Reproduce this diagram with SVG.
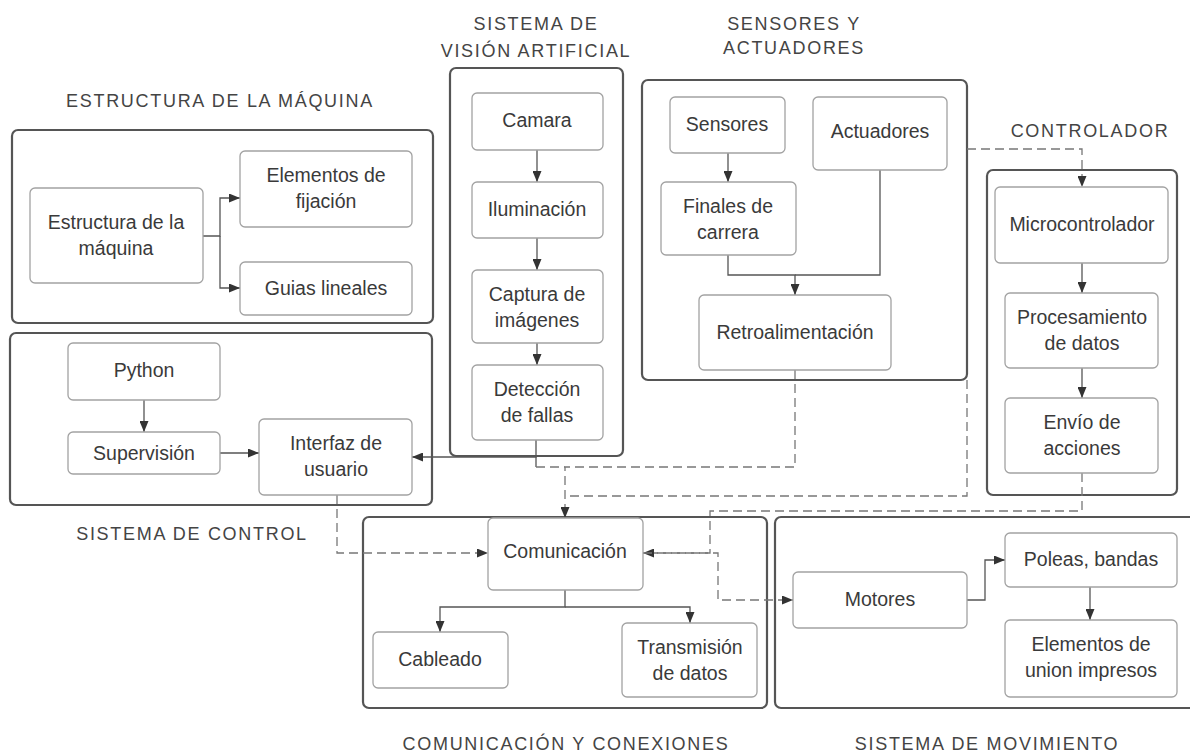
<svg xmlns="http://www.w3.org/2000/svg" width="1190" height="755" viewBox="0 0 1190 755">
<defs>
<marker id="ah" markerUnits="userSpaceOnUse" markerWidth="11" markerHeight="9" refX="11" refY="4.5" orient="auto">
<path d="M0,0 L11,4.5 L0,9 z" fill="#333" stroke="none"/>
</marker>
<style>
.grp{fill:#fff;stroke:#555;stroke-width:2.2}
.nd{fill:#fff;stroke:#a2a2a2;stroke-width:1.3}
.t{font-family:"Liberation Sans",Arial,sans-serif;font-size:19.5px;fill:#3a3a3a;text-anchor:middle}
.ttl{font-family:"Liberation Sans",Arial,sans-serif;font-size:18px;fill:#444;text-anchor:middle;letter-spacing:1.7px}
.c{fill:none;stroke:#555;stroke-width:1.3}
.d{fill:none;stroke:#777;stroke-width:1.3;stroke-dasharray:9 5}
</style>
</defs>
<rect width="1190" height="755" fill="#fff"/>

<g id="groups">
<g id="g-estructura"><rect class="grp" x="12" y="130" width="421" height="193" rx="6"/><text class="ttl" x="220" y="107">ESTRUCTURA DE LA MÁQUINA</text></g>
<g id="g-control"><rect class="grp" x="10" y="333" width="422" height="172" rx="6"/><text class="ttl" x="192" y="540">SISTEMA DE CONTROL</text></g>
<g id="g-vision"><rect class="grp" x="450" y="68" width="173" height="388" rx="6"/><text class="ttl" x="536" y="30">SISTEMA DE</text><text class="ttl" x="536" y="57">VISIÓN ARTIFICIAL</text></g>
<g id="g-sensores"><rect class="grp" x="642" y="80" width="325" height="300" rx="6"/><text class="ttl" x="794" y="30">SENSORES Y</text><text class="ttl" x="794" y="54">ACTUADORES</text></g>
<g id="g-controlador"><rect class="grp" x="987" y="170" width="190" height="325" rx="6"/><text class="ttl" x="1090" y="137">CONTROLADOR</text></g>
<g id="g-comunicacion"><rect class="grp" x="363" y="517" width="404" height="191" rx="6"/><text class="ttl" x="566" y="750">COMUNICACIÓN Y CONEXIONES</text></g>
<g id="g-movimiento"><rect class="grp" x="775" y="517" width="425" height="191" rx="6"/><text class="ttl" x="987" y="750">SISTEMA DE MOVIMIENTO</text></g>
</g>

<g id="connectors">
<path class="c" d="M203,236 H220 V198 H240" marker-end="url(#ah)"/>
<path class="c" d="M220,236 V288 H240" marker-end="url(#ah)"/>
<path class="c" d="M144,400 V432" marker-end="url(#ah)"/>
<path class="c" d="M220,453 H259" marker-end="url(#ah)"/>
<path class="c" d="M536,440 V457 H412" marker-end="url(#ah)"/>
<path class="c" d="M537,150 V182" marker-end="url(#ah)"/>
<path class="c" d="M537,238 V270" marker-end="url(#ah)"/>
<path class="c" d="M537,343 V365" marker-end="url(#ah)"/>
<path class="c" d="M728,153 V182" marker-end="url(#ah)"/>
<path class="c" d="M728,255 V275 H795 V295" marker-end="url(#ah)"/>
<path class="c" d="M880,170 V275 H795"/>
<path class="c" d="M1082,263 V293" marker-end="url(#ah)"/>
<path class="c" d="M1082,368 V398" marker-end="url(#ah)"/>
<path class="c" d="M565,590 V607 H440 V632" marker-end="url(#ah)"/>
<path class="c" d="M565,607 H690 V623" marker-end="url(#ah)"/>
<path class="c" d="M967,600 H985 V560 H1005" marker-end="url(#ah)"/>
<path class="c" d="M1090,587 V620" marker-end="url(#ah)"/>
<path class="c" d="M536,457 V467"/>
<path class="d" d="M795,370 V467 H565 V518" marker-end="url(#ah)"/>
<path class="d" d="M536,467 H565"/>
<path class="d" d="M967,380 V496 H565"/>
<path class="d" d="M967,149 H1082 V187" marker-end="url(#ah)"/>
<path class="d" d="M1082,473 V511 H710 V553 H643" marker-end="url(#ah)"/>
<path class="d" d="M643,553 H718 V600 H793" marker-end="url(#ah)"/>
<path class="d" d="M337,495 V553 H488" marker-end="url(#ah)"/>
</g>

<g id="n-estructura"><rect class="nd" x="30" y="188" width="173" height="95" rx="5"/><text class="t" x="116" y="229">Estructura de la</text><text class="t" x="116" y="255">máquina</text></g>
<g id="n-fijacion"><rect class="nd" x="240" y="151" width="172" height="76" rx="5"/><text class="t" x="326" y="182">Elementos de</text><text class="t" x="326" y="208">fijación</text></g>
<g id="n-guias"><rect class="nd" x="240" y="262" width="172" height="53" rx="5"/><text class="t" x="326" y="295">Guias lineales</text></g>

<g id="n-python"><rect class="nd" x="68" y="343" width="152" height="57" rx="5"/><text class="t" x="144" y="377">Python</text></g>
<g id="n-supervision"><rect class="nd" x="68" y="432" width="152" height="42" rx="5"/><text class="t" x="144" y="460">Supervisión</text></g>
<g id="n-interfaz"><rect class="nd" x="259" y="419" width="153" height="76" rx="5"/><text class="t" x="336" y="450">Interfaz de</text><text class="t" x="336" y="476">usuario</text></g>

<g id="n-camara"><rect class="nd" x="472" y="93" width="131" height="57" rx="5"/><text class="t" x="537" y="127">Camara</text></g>
<g id="n-iluminacion"><rect class="nd" x="472" y="182" width="131" height="56" rx="5"/><text class="t" x="537" y="216">Iluminación</text></g>
<g id="n-captura"><rect class="nd" x="472" y="270" width="131" height="73" rx="5"/><text class="t" x="537" y="301">Captura de</text><text class="t" x="537" y="327">imágenes</text></g>
<g id="n-deteccion"><rect class="nd" x="472" y="365" width="131" height="75" rx="5"/><text class="t" x="537" y="396">Detección</text><text class="t" x="537" y="422">de fallas</text></g>

<g id="n-sensores"><rect class="nd" x="670" y="97" width="115" height="56" rx="5"/><text class="t" x="727" y="131">Sensores</text></g>
<g id="n-actuadores"><rect class="nd" x="813" y="97" width="134" height="73" rx="5"/><text class="t" x="880" y="138">Actuadores</text></g>
<g id="n-finales"><rect class="nd" x="661" y="182" width="135" height="73" rx="5"/><text class="t" x="728" y="213">Finales de</text><text class="t" x="728" y="239">carrera</text></g>
<g id="n-retro"><rect class="nd" x="699" y="295" width="192" height="75" rx="5"/><text class="t" x="795" y="339">Retroalimentación</text></g>

<g id="n-micro"><rect class="nd" x="995" y="187" width="173" height="76" rx="5"/><text class="t" x="1082" y="231">Microcontrolador</text></g>
<g id="n-proc"><rect class="nd" x="1005" y="293" width="153" height="75" rx="5"/><text class="t" x="1082" y="324">Procesamiento</text><text class="t" x="1082" y="350">de datos</text></g>
<g id="n-envio"><rect class="nd" x="1005" y="398" width="153" height="75" rx="5"/><text class="t" x="1082" y="429">Envío de</text><text class="t" x="1082" y="455">acciones</text></g>

<g id="n-comunicacion"><rect class="nd" x="488" y="518" width="155" height="72" rx="5"/><text class="t" x="565" y="558">Comunicación</text></g>
<g id="n-cableado"><rect class="nd" x="373" y="632" width="135" height="56" rx="5"/><text class="t" x="440" y="666">Cableado</text></g>
<g id="n-transmision"><rect class="nd" x="622" y="623" width="135" height="74" rx="5"/><text class="t" x="690" y="654">Transmisión</text><text class="t" x="690" y="680">de datos</text></g>

<g id="n-motores"><rect class="nd" x="793" y="572" width="174" height="56" rx="5"/><text class="t" x="880" y="606">Motores</text></g>
<g id="n-poleas"><rect class="nd" x="1005" y="533" width="172" height="54" rx="5"/><text class="t" x="1091" y="566">Poleas, bandas</text></g>
<g id="n-union"><rect class="nd" x="1005" y="620" width="172" height="77" rx="5"/><text class="t" x="1091" y="651">Elementos de</text><text class="t" x="1091" y="677">union impresos</text></g>
</svg>
